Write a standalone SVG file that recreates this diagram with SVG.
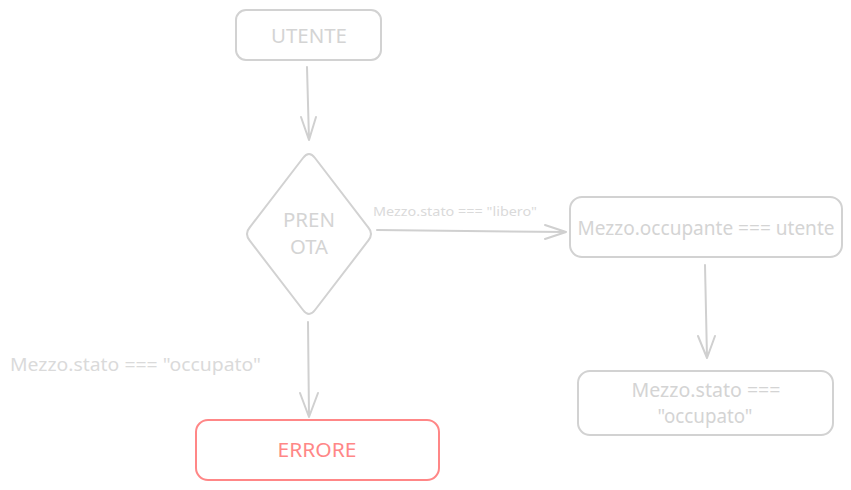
<svg xmlns="http://www.w3.org/2000/svg" width="851" height="490" viewBox="0 0 851 490">
<style>
.box{fill:none;stroke:#d2d2d2;stroke-width:2}
.err{fill:none;stroke:#ff8787;stroke-width:2}
.t{font-family:"Noto Sans","Open Sans",sans-serif;font-size:19px;fill:#d4d4d4;text-anchor:middle;dominant-baseline:central}
.et{fill:#ff8787}
.lbl{font-family:"Noto Sans","Open Sans",sans-serif;fill:#dadada;dominant-baseline:central}
.c{fill:none;stroke:#d0d0d0;stroke-width:2;stroke-linecap:round;stroke-linejoin:round}
</style>
<rect width="851" height="490" fill="#ffffff"/>
<g id="connectors">
<path class="c" d="M307 67 L309 140 M301 117 L309 140 L316 117"/>
<path class="c" d="M377 230 L566 232 M545 225 L566 232 L545 239"/>
<path class="c" d="M705 265 L707 358 M698 336 L707 358 L715 336"/>
<path class="c" d="M308 322 L309 417 M300 393 L309 417 L318 393"/>
<text class="lbl" x="373" y="211" font-size="13" textLength="164" lengthAdjust="spacingAndGlyphs">Mezzo.stato === "libero"</text>
<text class="lbl" x="10" y="363" font-size="18.5" textLength="251" lengthAdjust="spacingAndGlyphs">Mezzo.stato === "occupato"</text>
</g>
<g id="utente">
<rect class="box" x="236" y="10" width="145" height="50" rx="10"/>
<text class="t" x="309" y="36" textLength="76" lengthAdjust="spacingAndGlyphs">UTENTE</text>
</g>
<g id="prenota">
<path class="box" d="M303 158 Q309 150 315 158 L368 227 Q374 234 368 241 L315 310 Q309 318 303 310 L250 241 Q244 234 250 227 Z"/>
<text class="t" x="309" y="220" textLength="52" lengthAdjust="spacingAndGlyphs">PREN</text>
<text class="t" x="309" y="247" textLength="38" lengthAdjust="spacingAndGlyphs">OTA</text>
</g>
<g id="occupante">
<rect class="box" x="570" y="197" width="272" height="60" rx="12"/>
<text class="t" x="706" y="228" textLength="257" lengthAdjust="spacingAndGlyphs">Mezzo.occupante === utente</text>
</g>
<g id="stato">
<rect class="box" x="578" y="371" width="255" height="64" rx="12"/>
<text class="t" x="706" y="390" textLength="149" lengthAdjust="spacingAndGlyphs">Mezzo.stato ===</text>
<text class="t" x="705" y="416" textLength="95" lengthAdjust="spacingAndGlyphs">"occupato"</text>
</g>
<g id="errore">
<rect class="err" x="196" y="420" width="243" height="60" rx="12"/>
<text class="t et" x="317" y="450" textLength="79" lengthAdjust="spacingAndGlyphs">ERRORE</text>
</g>
</svg>
